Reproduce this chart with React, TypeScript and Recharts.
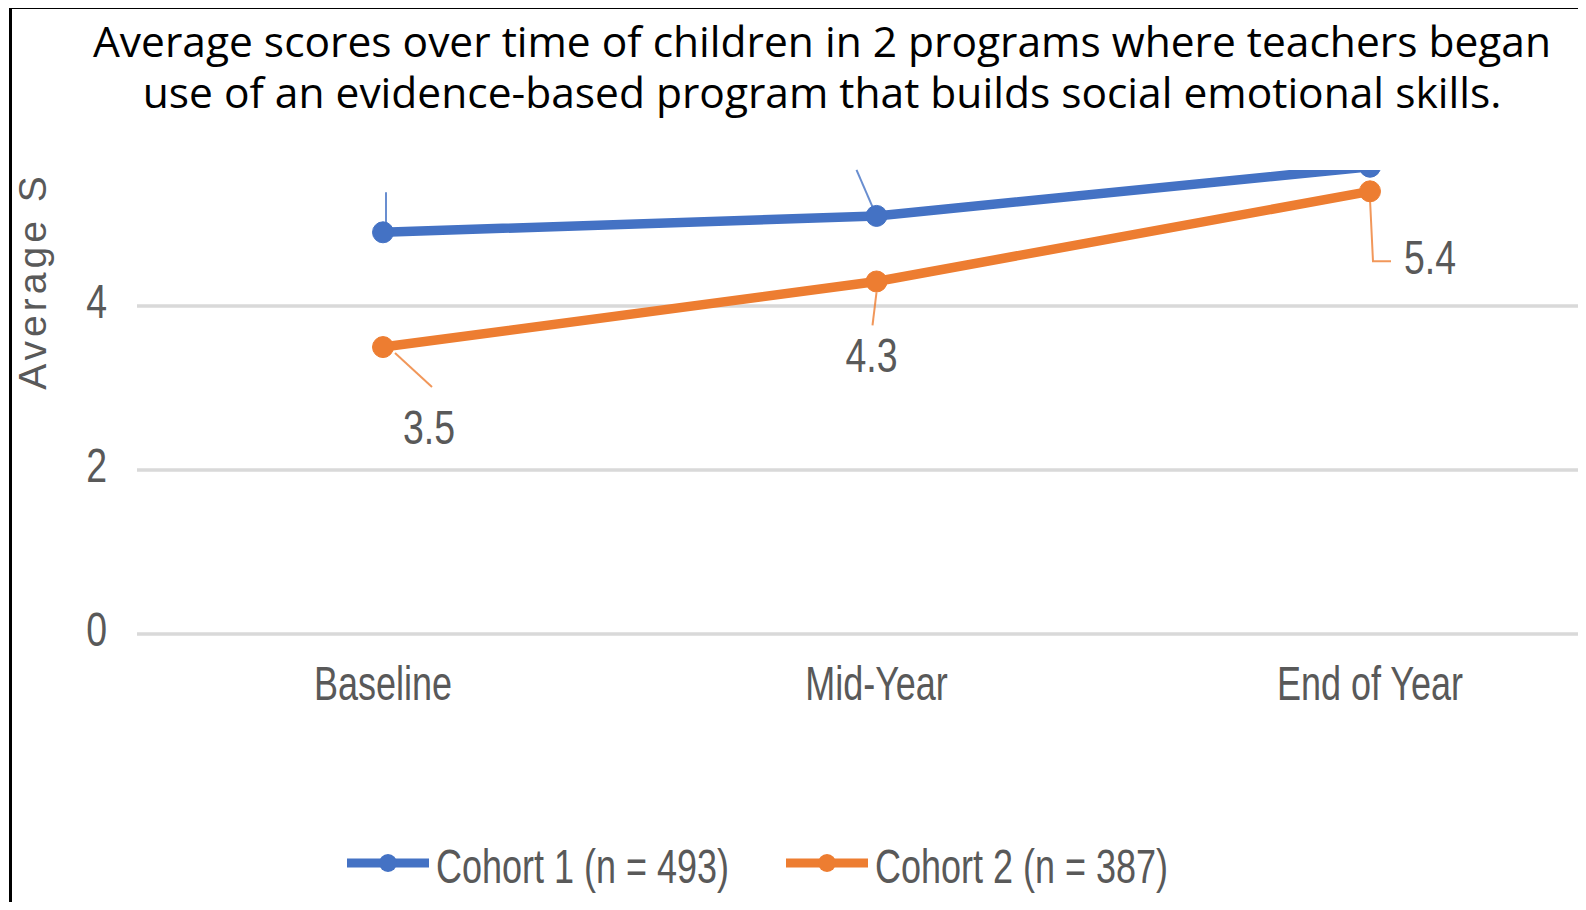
import React from "react";
import { CartesianGrid, LabelList, Line, LineChart, XAxis, YAxis } from "recharts";

// Time points on the x axis
const periods = ["Baseline", "Mid-Year", "End of Year"];

// Average scores per cohort
const cohort1Scores = [4.9, 5.1, 5.7];
const cohort2Scores = [3.5, 4.3, 5.4];

const cohort1Name = "Cohort 1 (n = 493)";
const cohort2Name = "Cohort 2 (n = 387)";

const yTicks = [0, 2, 4];

const BLUE = "#4472C4";
const ORANGE = "#ED7D31";
const TEXT = "#595959";
const FONT = '"Liberation Sans", Arial, sans-serif';

const chartData = periods.map((name, i) => ({
  name,
  cohort1: cohort1Scores[i],
  cohort2: cohort2Scores[i],
}));

// squeezed text, stands in for a narrow font
const NarrowText = ({
  x,
  y,
  anchor = "middle",
  squeeze = 0.75,
  size = 48,
  children,
}: any) => (
  <text
    transform={`translate(${x},${y}) scale(${squeeze},1)`}
    textAnchor={anchor}
    fontFamily={FONT}
    fontSize={size}
    fill={TEXT}
  >
    {children}
  </text>
);

// leader line + text offsets (relative to each point) for cohort 2 labels
const cohort2Leaders = [
  { path: [[12, 6], [49, 40]], tx: 46, ty: 97 },
  { path: [[0, 11], [-4, 44]], tx: -5, ty: 91 },
  { path: [[0, 8], [3, 70], [21, 70]], tx: 60, ty: 83 },
];

// cohort 1 labels sit above the visible area, only the leaders show
const cohort1Leaders = [
  { path: [[3, -9], [3, -40]] },
  { path: [[-4, -9], [-20, -46]] },
  null,
];

const toPoints = (x: number, y: number, path: number[][]) =>
  path.map(([dx, dy]) => `${x + dx},${y + dy}`).join(" ");

const Cohort2Label = (props: any) => {
  const { x, y, index, value } = props;
  const cfg = cohort2Leaders[index];
  if (!cfg) return null;
  return (
    <g>
      <polyline
        points={toPoints(x, y, cfg.path)}
        fill="none"
        stroke={ORANGE}
        strokeOpacity={0.8}
        strokeWidth={2}
      />
      <NarrowText x={x + cfg.tx} y={y + cfg.ty} squeeze={0.78}>
        {value}
      </NarrowText>
    </g>
  );
};

const Cohort1Label = (props: any) => {
  const { x, y, index } = props;
  const cfg = cohort1Leaders[index];
  if (!cfg) return null;
  return (
    <polyline
      points={toPoints(x, y, cfg.path)}
      fill="none"
      stroke={BLUE}
      strokeOpacity={0.8}
      strokeWidth={2}
    />
  );
};

const XTick = ({ x, y, payload }: any) => (
  <NarrowText x={x} y={y + 66} squeeze={0.75}>
    {payload.value}
  </NarrowText>
);

const YTick = ({ x, y, payload }: any) => (
  <NarrowText x={x} y={y + 12} anchor="end" squeeze={0.78}>
    {payload.value}
  </NarrowText>
);

const YLabel = ({ viewBox }: any) => {
  const cy = viewBox.y + 111;
  return (
    <text
      transform={`translate(46,${cy}) rotate(-90)`}
      textAnchor="middle"
      fontFamily={FONT}
      fontSize={39}
      letterSpacing={4}
      fill={TEXT}
    >
      Average S
    </text>
  );
};

const LegendItem = ({ x, color, label }: any) => (
  <g>
    <line x1={x} y1={30} x2={x + 82} y2={30} stroke={color} strokeWidth={9} />
    <circle cx={x + 41} cy={30} r={9} fill={color} />
    <NarrowText x={x + 89} y={50} anchor="start" squeeze={0.75}>
      {label}
    </NarrowText>
  </g>
);

const App = () => {
  return (
    <div
      style={{
        position: "relative",
        margin: -8,
        width: 1586,
        height: 910,
        overflow: "hidden",
        background: "#fff",
      }}
    >
      <div
        style={{
          position: "absolute",
          left: 9,
          top: 6,
          width: 1700,
          height: 1000,
          borderLeft: "3px solid #000",
          borderTop: "3px solid #000",
        }}
      />
      <div
        style={{
          position: "absolute",
          left: 22,
          width: 1600,
          top: 15,
          textAlign: "center",
          fontFamily: '"Open Sans", sans-serif',
          fontSize: 42.5,
          lineHeight: "51px",
          color: "#000",
        }}
      >
        Average scores over time of children in 2 programs where teachers began
        <br />
        use of an evidence-based program that builds social emotional skills.
      </div>
      <div style={{ position: "absolute", left: 0, top: 0 }}>
        <LineChart
          width={1640}
          height={730}
          data={chartData}
          margin={{ top: 170, right: 24, left: 0, bottom: 0 }}
        >
          <CartesianGrid
            horizontal
            vertical={false}
            syncWithTicks
            stroke="#d9d9d9"
            strokeWidth={3.5}
          />
          <XAxis
            dataKey="name"
            height={96}
            axisLine={false}
            tickLine={false}
            tickSize={0}
            tickMargin={0}
            padding={{ left: 246, right: 246 }}
            tick={XTick}
          />
          <YAxis
            width={137}
            domain={[0, 5.66]}
            ticks={yTicks}
            allowDataOverflow
            axisLine={false}
            tickLine={false}
            tickSize={0}
            tickMargin={30}
            tick={YTick}
            label={{ content: YLabel }}
          />
          <Line
            dataKey="cohort1"
            name={cohort1Name}
            stroke={BLUE}
            strokeWidth={9.5}
            dot={{ r: 10.5, fill: BLUE, stroke: BLUE, strokeWidth: 1 }}
            isAnimationActive={false}
          >
            <LabelList dataKey="cohort1" content={Cohort1Label} />
          </Line>
          <Line
            dataKey="cohort2"
            name={cohort2Name}
            stroke={ORANGE}
            strokeWidth={9.5}
            dot={{ r: 10.5, fill: ORANGE, stroke: ORANGE, strokeWidth: 1 }}
            isAnimationActive={false}
          >
            <LabelList dataKey="cohort2" content={Cohort2Label} />
          </Line>
        </LineChart>
      </div>
      <svg
        width={1586}
        height={70}
        style={{ position: "absolute", left: 0, top: 833 }}
      >
        <LegendItem x={347} color={BLUE} label={cohort1Name} />
        <LegendItem x={786} color={ORANGE} label={cohort2Name} />
      </svg>
    </div>
  );
};

export default App;
